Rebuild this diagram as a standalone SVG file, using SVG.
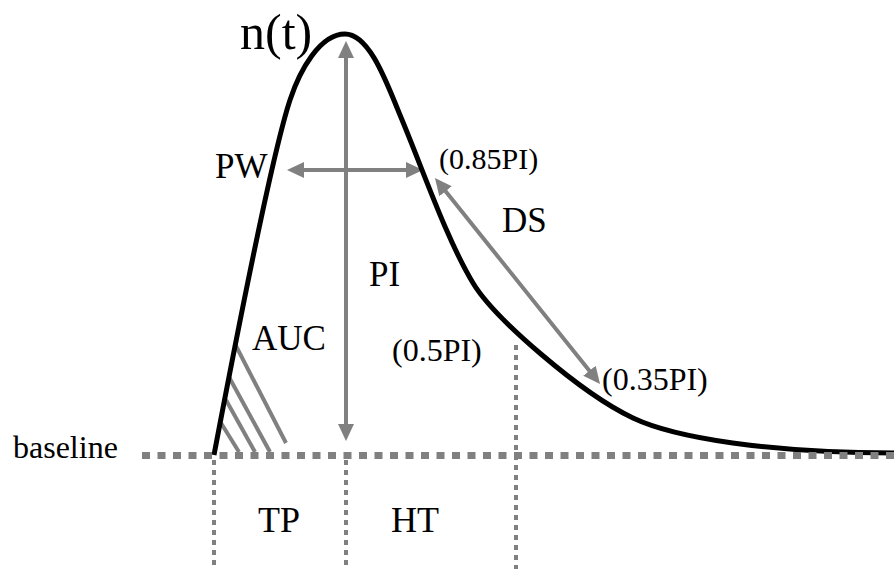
<svg xmlns="http://www.w3.org/2000/svg" width="894" height="569" viewBox="0 0 894 569">
<style>
text{font-family:"Liberation Serif","Times New Roman",serif;fill:#000}
.lbl{font-size:35px}
.sm{font-size:32px}
.arr{stroke:#808080;stroke-width:4;fill:none}
.hatch{stroke:#808080;stroke-width:4;fill:none}
.vdot{stroke:#808080;stroke-width:4;stroke-dasharray:5 5;fill:none}
.base{stroke:#808080;stroke-width:7;stroke-dasharray:8 7.5;fill:none}
.curve{stroke:#000;stroke-width:5;fill:none;stroke-linejoin:round}
</style>
<defs>
<marker id="ah" viewBox="0 0 17 16" refX="7" refY="8" markerWidth="17" markerHeight="16" markerUnits="userSpaceOnUse" orient="auto-start-reverse">
<path d="M0,0 L17,8 L0,16 z" fill="#808080"/>
</marker>
</defs>
<g id="connectors">
<line class="arr" x1="346" y1="51" x2="346" y2="431" marker-start="url(#ah)" marker-end="url(#ah)"/>
<line class="arr" x1="297" y1="170" x2="413" y2="170" marker-start="url(#ah)" marker-end="url(#ah)"/>
<line class="arr" x1="441.2" y1="185.8" x2="593.8" y2="376.2" marker-start="url(#ah)" marker-end="url(#ah)"/>
<g id="auc-hatch">
<line class="hatch" x1="235" y1="344" x2="286" y2="443"/>
<line class="hatch" x1="229" y1="377" x2="270" y2="452"/>
<line class="hatch" x1="226" y1="400" x2="255" y2="452"/>
<line class="hatch" x1="221" y1="423" x2="239" y2="452"/>
</g>
<line class="vdot" x1="214" y1="460" x2="214" y2="569"/>
<line class="vdot" x1="346" y1="460" x2="346" y2="569"/>
<line class="vdot" x1="516" y1="345" x2="516" y2="569"/>
</g>
<g id="curve">
<path class="curve" d="M214,455 C231.1,365 270.2,160 290,100 C299.9,70 320,34 345,34 C370,34 387.4,85 400,115 C423.1,170 446,238 473,283 C494,318 580.5,393 633,418 C675,438 770,453 894,453"/>
</g>
<g id="baseline">
<line class="base" x1="142" y1="455.5" x2="894" y2="455.5"/>
<text x="13" y="458" style="font-size:32px">baseline</text>
</g>
<g id="nt"><text x="240" y="49" style="font-size:50px">n(t)</text></g>
<g id="pw"><text class="lbl" x="215" y="178">PW</text></g>
<g id="pi"><text class="lbl" x="369" y="286">PI</text></g>
<g id="ds"><text class="lbl" x="502" y="232">DS</text></g>
<g id="auc"><text class="lbl" x="252" y="350">AUC</text></g>
<g id="p085"><text x="439" y="169" style="font-size:30px">(0.85PI)</text></g>
<g id="p05"><text class="sm" x="392" y="361">(0.5PI)</text></g>
<g id="p035"><text class="sm" x="602" y="390">(0.35PI)</text></g>
<g id="tp"><text x="258" y="532" style="font-size:36px">TP</text></g>
<g id="ht"><text x="391" y="532" style="font-size:36px">HT</text></g>
</svg>
